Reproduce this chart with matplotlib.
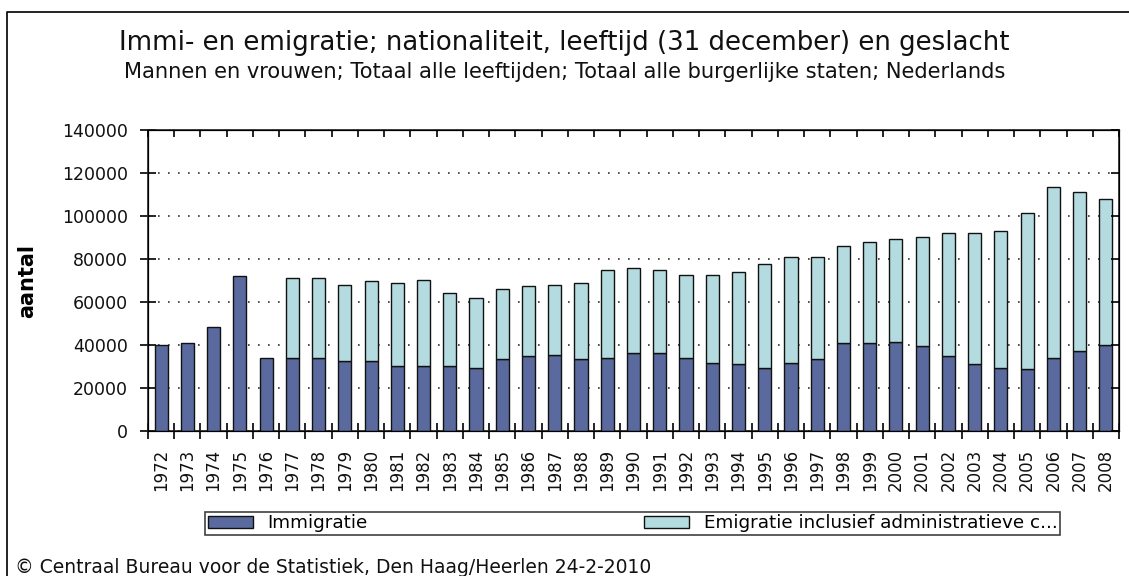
import numpy as np
import matplotlib
matplotlib.use("Agg")
import matplotlib.pyplot as plt
from matplotlib.lines import Line2D
from matplotlib.patches import Patch

years = list(range(1972, 2009))
immigratie = [40100, 40900, 48400, 71900, 33950, 34000, 34000, 32600, 32600, 30200,
              30200, 30200, 29400, 33300, 34700, 35500, 33300, 34000, 36300, 36300,
              34000, 31800, 31000, 29400, 31800, 33300, 40900, 40900, 41500, 39400,
              34700, 31000, 29400, 28700, 34000, 37000, 40100]
emigratie = [None, None, None, None, None, 37200, 37200, 35400, 37000, 38600,
             40200, 34100, 32600, 32600, 32600, 32500, 35500, 40900, 39400, 38600,
             38600, 40800, 43100, 48400, 49100, 47600, 45300, 46900, 47800, 50700,
             57500, 61200, 63600, 72700, 79500, 74200, 67900]
y_ticks = [0, 20000, 40000, 60000, 80000, 100000, 120000, 140000]

dark = '#5a6a9e'
light = '#b3dbe0'

fig = plt.figure(figsize=(11.29, 5.76), dpi=100)
ax = fig.add_axes([148/1129, 1 - 431/576, (1119 - 148)/1129, (431 - 130)/576])

x = np.arange(len(years))
ax.bar(x, immigratie, width=0.5, color=dark, edgecolor='#111111', linewidth=1.0, zorder=3)
ex = [i for i in x if emigratie[i] is not None]
ax.bar(ex, [emigratie[i] for i in ex], bottom=[immigratie[i] for i in ex], width=0.5,
       color=light, edgecolor='#111111', linewidth=1.0, zorder=3)

ax.set_xlim(-0.5, len(years) - 0.5)
ax.set_ylim(0, 140000)
ax.set_yticks(y_ticks)
ax.set_yticklabels([str(v) for v in y_ticks], fontsize=12.5, color='#111111')
ax.tick_params(axis='y', direction='inout', length=12, width=1.2, pad=8.5)

# ticks between bars, labels at bar centres
ax.set_xticks(np.arange(-0.5, len(years)), minor=False)
ax.set_xticklabels([])
ax.set_xticks(x, minor=True)
ax.set_xticklabels([str(y) for y in years], minor=True, rotation=90, fontsize=12, color='#111111')
ax.tick_params(axis='x', which='major', direction='inout', length=11, width=1.2)
ax.tick_params(axis='x', which='minor', length=0, pad=13)

ax.yaxis.grid(True, linestyle=(0, (1, 5)), color='#333333', linewidth=1.2, zorder=0)
ax.set_axisbelow(True)
for s in ax.spines.values():
    s.set_linewidth(1.2)
    s.set_color('#222222')

# inner ticks on top and right
axr = ax.twinx()
axr.set_ylim(0, 140000)
axr.set_yticks(y_ticks)
axr.set_yticklabels([])
axr.tick_params(direction='in', length=6, width=1.2)
axt = ax.twiny()
axt.set_xlim(-0.5, len(years) - 0.5)
axt.set_xticks(np.arange(-0.5, len(years)))
axt.set_xticklabels([])
axt.tick_params(direction='in', length=5, width=1.2)

ax.set_ylabel('aantal', fontsize=15, fontweight='bold')
ax.yaxis.set_label_coords(-(148 - 37) / 971, 0.5)

fig.text(0.5, 1 - 43/576, 'Immi- en emigratie; nationaliteit, leeftijd (31 december) en geslacht',
         ha='center', va='center', fontsize=18.7, color='#111111')
fig.text(0.5, 1 - 72/576, 'Mannen en vrouwen; Totaal alle leeftijden; Totaal alle burgerlijke staten; Nederlands',
         ha='center', va='center', fontsize=15.1, color='#111111')

handles = [Patch(facecolor=dark, edgecolor='#111111', label='Immigratie'),
           Patch(facecolor=light, edgecolor='#111111', label='Emigratie inclusief administratieve c...')]
leg = fig.legend(handles=handles, loc='lower left', ncol=2, mode='expand',
                 bbox_to_anchor=(205/1129, 1 - 535/576, (1060 - 205)/1129, 20/576),
                 fontsize=13.2, frameon=True, fancybox=False, borderaxespad=0,
                 borderpad=0.15, handlelength=2.45, handleheight=0.6, handletextpad=0.8)
leg.get_frame().set_edgecolor('#111111')
leg.get_frame().set_linewidth(1.2)

fig.text(15/1129, 3/576, '\u00a9 Centraal Bureau voor de Statistiek, Den Haag/Heerlen 24-2-2010',
         ha='left', va='baseline', fontsize=13.5, color='#111111')

# outer frame (left and top)
fig.add_artist(Line2D([7/1129, 7/1129, 1], [0, 1 - 12/576, 1 - 12/576],
                      transform=fig.transFigure, color='#111111', linewidth=1.3))

fig.savefig('out.png', dpi=100)
